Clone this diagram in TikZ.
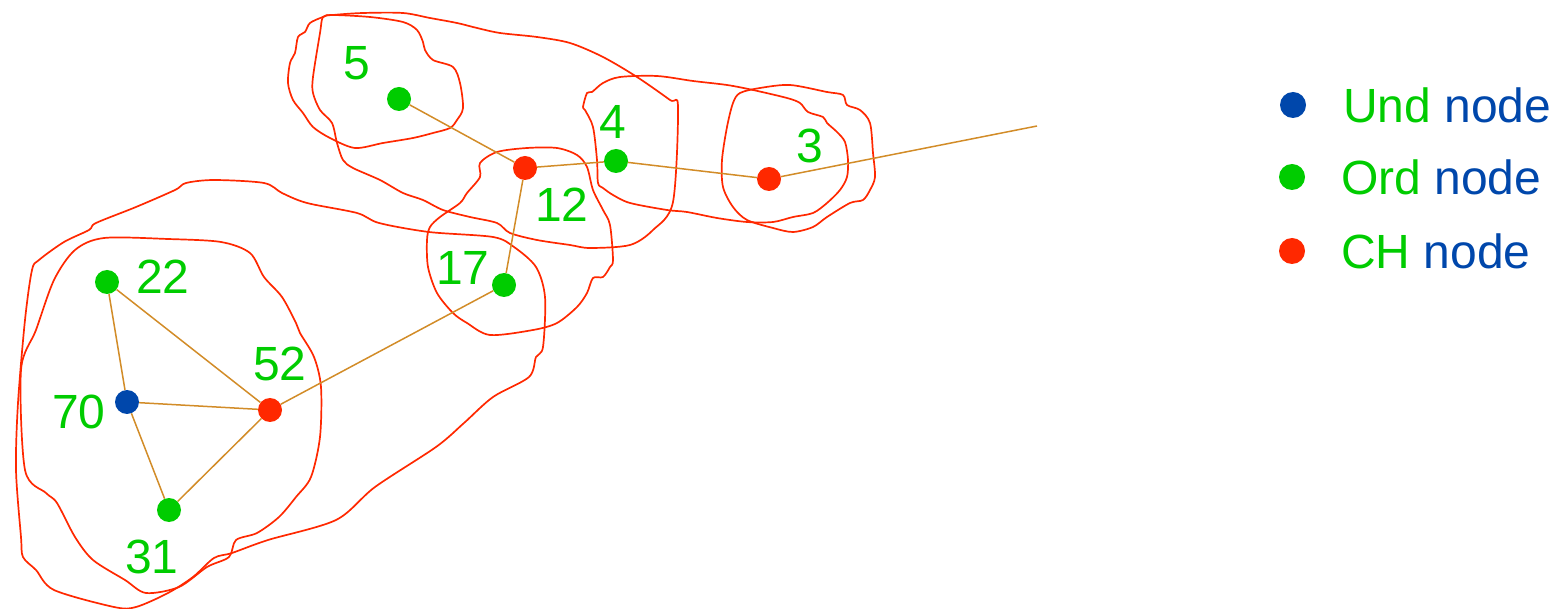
\documentclass[tikz,border=0pt]{standalone}
\usepackage{fontspec}
\setmainfont{Liberation Sans}
\definecolor{ngreen}{RGB}{0,204,0}
\definecolor{nred}{RGB}{255,40,0}
\definecolor{nblue}{RGB}{0,71,171}
\definecolor{edgec}{RGB}{210,140,40}
\definecolor{blobc}{RGB}{255,40,0}
\begin{document}
\begin{tikzpicture}[x=1pt,y=-1pt,
  dotnode/.style={circle,inner sep=0pt,minimum size=24pt,draw=none},
  ordnode/.style={dotnode,fill=ngreen},
  chnode/.style={dotnode,fill=nred},
  undnode/.style={dotnode,fill=nblue},
  lbl/.style={inner sep=0pt,text=ngreen,font=\fontsize{48}{50}\selectfont},
  legtext/.style={inner sep=0pt,anchor=west,font=\fontsize{48}{50}\selectfont},
  edge/.style={draw=edgec,line width=1.5pt},
  blob/.style={draw=blobc,line width=1.7pt,line join=round}]
\useasboundingbox (0,0) rectangle (1567,609);

% hand-drawn cluster outlines
\draw[blob] plot[smooth cycle,tension=0.5] coordinates {(39,260) (32,270) (25,320) (18,403) (16,470) (21,537) (23,557) (36,570) (54,590) (114,607) (136,607) (168,593) (193,577) (214,558) (232,553) (268,540) (336,520) (375,487) (436,447) (464,423) (493,397) (529,377) (536,357) (543,347) (545,297) (536,267) (514,247) (493,237) (429,232) (379,223) (357,213) (307,203) (282,193) (264,183) (214,180) (186,183) (175,190) (136,207) (96,223) (89,230) (64,242)};
\draw[blob] plot[smooth cycle,tension=0.5] coordinates {(104,238) (168,239) (221,242) (250,253) (264,277) (282,297) (296,323) (300,333) (314,357) (321,387) (320,437) (311,477) (296,497) (279,517) (257,533) (236,540) (229,557) (207,567) (179,587) (146,593) (125,580) (93,560) (75,537) (57,503) (46,493) (25,470) (21,370) (36,330) (54,280) (75,250)};
\draw[blob] plot[smooth cycle,tension=0.5] coordinates {(305,32) (298,37) (295,53) (290,63) (288,83) (293,100) (303,113) (313,127) (330,138) (355,148) (383,143) (413,138) (433,133) (450,128) (457,120) (463,108) (460,83) (453,67) (433,60) (425,50) (423,42) (417,30) (403,22) (370,17) (332,15) (323,17) (310,23)};
\draw[blob] plot[smooth cycle,tension=0.5] coordinates {(323,17) (320,33) (313,77) (313,93) (320,110) (332,123) (337,143) (343,160) (353,168) (380,180) (403,193) (423,200) (443,210) (470,217) (497,223) (510,233) (537,240) (570,245) (590,248) (630,245) (653,230) (673,202) (678,107) (670,100) (637,77) (603,57) (570,43) (537,37) (500,33) (477,28) (457,23) (430,18) (403,13) (363,13) (333,15)};
\draw[blob] plot[smooth cycle,tension=0.5] coordinates {(480,163) (497,152) (527,148) (557,148) (577,155) (587,167) (593,190) (603,210) (610,225) (613,260) (610,267) (603,277) (593,278) (587,293) (577,307) (557,323) (533,330) (490,335) (467,323) (453,313) (437,293) (428,267) (427,240) (430,227) (440,217) (460,203) (467,193) (480,177)};
\draw[blob] plot[smooth cycle,tension=0.5] coordinates {(592,92) (603,83) (620,77) (657,76) (693,81) (727,85) (753,90) (787,98) (800,103) (808,112) (823,117) (827,123) (837,132) (845,142) (848,160) (847,177) (840,190) (827,203) (813,213) (793,217) (773,222) (747,222) (717,218) (687,212) (667,210) (630,203) (613,195) (603,188) (598,183) (597,160) (593,127) (585,110) (583,107) (587,93)};
\draw[blob] plot[smooth cycle,tension=0.5] coordinates {(740,93) (760,88) (790,85) (827,92) (843,95) (847,105) (860,110) (870,123) (873,153) (875,177) (870,190) (863,200) (850,203) (827,217) (813,227) (793,232) (773,228) (747,220) (733,207) (723,187) (722,160) (727,127) (733,103)};

% nodes
\node[ordnode] (n5) at (399,99) {};
\node[chnode] (n12) at (525,168) {};
\node[ordnode] (n4) at (616,161) {};
\node[chnode] (n3) at (769,179) {};
\node[ordnode] (n17) at (504,285) {};
\node[ordnode] (n22) at (107,282) {};
\node[undnode] (n70) at (127,402) {};
\node[chnode] (n52) at (270,410) {};
\node[ordnode] (n31) at (169,510) {};
\coordinate (e3) at (1037,126);

% edges
\draw[edge] (n5) -- (n12);
\draw[edge] (n12) -- (n4);
\draw[edge] (n4) -- (n3);
\draw[edge] (n3) -- (e3);
\draw[edge] (n12) -- (n17);
\draw[edge] (n17) -- (n52);
\draw[edge] (n22) -- (n52);
\draw[edge] (n22) -- (n70);
\draw[edge] (n70) -- (n52);
\draw[edge] (n70) -- (n31);
\draw[edge] (n31) -- (n52);

% labels
\node[lbl] (l5) at (357,63) {5};
\node[lbl] (l12) at (562,205) {12};
\node[lbl] (l4) at (613,122) {4};
\node[lbl] (l3) at (810,146) {3};
\node[lbl] (l17) at (463,268) {17};
\node[lbl] (l22) at (163,277) {22};
\node[lbl] (l70) at (79,412) {70};
\node[lbl] (l52) at (280,364) {52};
\node[lbl] (l31) at (152,557) {31};

% legend
\node[dotnode,fill=nblue,minimum size=26pt] (d1) at (1293,105) {};
\node[dotnode,fill=ngreen,minimum size=26pt] (d2) at (1292,177) {};
\node[dotnode,fill=nred,minimum size=26pt] (d3) at (1292,251) {};
\node[legtext] (t1) at (1343,105) {\textcolor{ngreen}{Und} \textcolor{nblue}{node}};
\node[legtext] (t2) at (1341,177) {\textcolor{ngreen}{Ord} \textcolor{nblue}{node}};
\node[legtext] (t3) at (1341,251) {\textcolor{ngreen}{CH} \textcolor{nblue}{node}};
\end{tikzpicture}
\end{document}
